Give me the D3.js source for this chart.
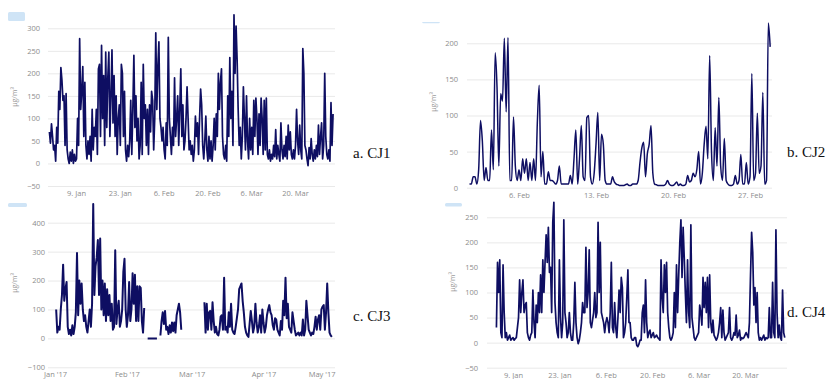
<!DOCTYPE html>
<html>
<head>
<meta charset="utf-8">
<script src="https://cdn.jsdelivr.net/npm/d3@7"></script>
<style>
  body { margin: 0; background: #fff; }
  svg { display: block; }
  .tick text { font-family: "Open Sans", sans-serif; font-size: 7.5px; fill: #8c8c8c; }
  .tick line { stroke: #e9e9e9; }
  .y-title { font-family: "Open Sans", sans-serif; font-size: 7px; fill: #9a9a9a; }
  .panel-name { font-family: "Liberation Serif", "Times New Roman", serif; font-size: 15px; fill: #111; }
</style>
</head>
<body>
<svg id="chart" width="830" height="379"></svg>
<script>
// PM readings per station

// a. CJ1 - every 8 hours from 31 Dec 12:00
const cj1Start = new Date(2016, 11, 31, 12);
const cj1StepHours = 8;
const cj1Values = [
  70,45,88, 60,30,40, 5,80,45, 160,120,213, 185,140,150, 40,155,30, 10,0,25, 5,30,0, 20,5,10,
  100,40,277, 120,160,215, 60,180,40, 10,50,20, 60,5,120, 30,80,60, 120,20,210, 220,60,262,
  100,195,40, 247,80,190, 247,60,150, 252,90,195, 60,150,20, 100,130,40, 220,200,60, 160,30,5,
  40,15,50, 140,20,120, 240,80,150, 50,100,10, 40,180,20, 220,100,130, 40,120,20, 130,70,160,
  140,30,100, 290,120,215, 270,100,80, 50,80,30, 10,90,40, 280,100,60, 20,80,40, 190,60,100,
  150,40,120, 210,60,130, 30,50,100, 170,100,30, 50,20,40, 5,30,105, 60,90,20, 100,165,130,
  40,10,50, 105,30,5, 60,10,50, 5,40,100, 30,110,60, 200,120,180, 210,60,20, 10,40,5,
  150,60,235, 100,160,40, 330,200,305, 230,120,40, 80,10,60, 170,100,30, 150,50,10, 100,30,80,
  20,140,60, 145,100,20, 110,40,145, 100,20,140, 30,145,20, 10,30,5, 20,10,40, 15,75,10,
  40,20,5, 90,30,10, 40,15,60, 10,85,30, 70,20,10, 30,10,40, 120,50,20, 85,30,10,
  255,200,40, 30,10,-5, 35,10,55, 20,5,30, 10,40,15, 85,20,60, 90,10,40, 200,60,20,
  10,30,5, 135,40,110
];

// b. CJ2 - every 4 hours from 1 Feb 12:00
const cj2Start = new Date(2017, 1, 1, 12);
const cj2StepHours = 4;
const cj2Values = [
  5,5,15,15,5,25,93,65,10,28, 10,10,80,25,187,140,30,130,120,207,
  105,208,10,10,98,30,10,25,10,40, 20,40,10,35,10,40,10,90,142,15,
  50,5,5,22,10,10,8,5,10,30, 5,5,5,5,5,17,5,40,80,5,
  40,86,15,10,97,100,15,5,20,60, 104,10,74,60,10,5,5,5,15,8,
  5,4,3,3,3,4,5,3,3,5, 5,5,10,35,55,63,15,47,60,86,
  20,5,4,3,3,3,3,5,10,5, 3,3,5,8,3,5,3,3,5,17,
  8,10,20,15,25,50,5,20,60,85, 40,183,50,10,83,30,125,30,10,68,
  10,5,3,3,5,17,5,10,46,5, 5,35,5,15,158,10,20,103,20,30,
  132,5,10,228,195
];

// c. CJ3 - every 12 hours from 1 Jan 12:00, null where the station had no data
const cj3Start = new Date(2017, 0, 1, 12);
const cj3StepHours = 12;
const cj3Values = [
  100,20,40,30,100,150,255,130,170,195, 40,15,30,10,45,15,40,90,295,80,
  200,120,190,100,60,80,40,20,60,100, 40,120,465,150,250,280,340,150,345,100,
  200,80,190,60,170,80,150,60,120,30, 40,305,50,100,130,40,60,100,230,275,
  100,40,80,195,60,100,225,120,220,60, 180,60,180,175,60,20,105,
  null,null,
  0,0,0,0,0,0,0,0,0,
  null,null,
  10,60,90,50,95,30,40,15,45,20, 55,25,55,20,80,100,120,90,30,
  null,null,null,null,null,null,null,null,null,null, null,null,null,null,null,null,null,null,null,
  125,20,120,30,90,95,30,125,60,20, 40,15,10,30,75,80,30,210,30,40,
  20,90,40,120,30,20,15,40,70,100, 170,180,190,130,90,40,20,10,5,50,
  95,60,20,40,120,55,20,40,80,20, 100,55,20,40,80,100,115,90,80,45,
  30,70,65,30,20,10,60,30,130,80, 210,70,120,40,30,20,90,60,30,10,
  15,20,10,20,10,65,10,30,130,80, 30,20,10,20,15,40,75,30,65,80,
  30,100,110,115,30,90,190,90,20,10, 5
];

// d. CJ4 - every 8 hours from 4 Jan 00:00
const cj4Start = new Date(2017, 0, 4, 0);
const cj4StepHours = 8;
const cj4Values = [
  30,160,100,165,20,10,155,60,10,20, 5,10,15,5,8,10,5,8,10,30,
  50,125,60,100,125,60,75,80,20,10, 5,15,20,105,40,10,75,40,100,60,
  135,60,165,100,160,215,160,230,140,150, 60,240,280,80,40,20,10,165,50,10,
  40,245,60,40,10,20,60,20,5,5, 40,120,40,10,-2,5,20,40,80,60,
  60,190,70,100,185,40,30,45,60,100, 50,60,240,100,200,60,50,40,20,40,
  50,40,20,60,160,30,20,80,30,10, 50,105,60,130,110,10,20,40,90,145,
  40,40,10,5,5,10,10,-5,-8,-3, 5,5,60,75,20,125,40,10,20,25,
  10,15,20,10,12,15,10,8,5,165, 90,60,155,100,160,60,30,10,5,10,
  20,100,30,155,60,135,200,245,130,230, 170,100,40,165,60,30,235,50,30,10,
  5,10,15,20,75,60,35,130,70,120, 60,130,30,135,40,20,45,15,10,5,
  10,20,40,70,10,65,20,5,10,15, 20,70,10,5,10,20,15,55,10,15,
  25,5,10,8,10,15,20,15,10,40, 135,220,180,75,110,40,100,20,5,10,
  5,10,15,5,10,8,10,70,10,10, 120,20,10,225,60,10,35,10,5,105,
  20,10
];

// axis ticks
const weekTicks = [new Date(2017,0,9), new Date(2017,0,23), new Date(2017,1,6),
                   new Date(2017,1,20), new Date(2017,2,6), new Date(2017,2,20)];
const febTicks = [new Date(2017,1,6), new Date(2017,1,13), new Date(2017,1,20), new Date(2017,1,27)];
const monthTicks = [new Date(2017,0,1), new Date(2017,1,1), new Date(2017,2,1), new Date(2017,3,1), new Date(2017,4,1)];
const yTicksA = [-50, 0, 50, 100, 150, 200, 250, 300];
const yTicksB = [0, 50, 100, 150, 200];
const yTicksC = [-100, 0, 100, 200, 300, 400];
const yTicksD = [-50, 0, 50, 100, 150, 200, 250];

const lineColor = "#0e0e62";
const svg = d3.select("#chart");

const panels = [
  { name: "a. CJ1", values: cj1Values, start: cj1Start, step: cj1StepHours, width: 1.7,
    xDom: [weekTicks[0], weekTicks[5]], xPx: [76, 295], xTicks: weekTicks, fmt: d3.timeFormat("%-d. %b"),
    yTicks: yTicksA, yPx: [186, 28.3], left: 48, right: 335, labelRight: 40, top: 8, labelY: 191,
    titleX: 17, titleY: 97, nameX: 353, nameY: 158, mark: [8, 12, 17, 9] },
  { name: "b. CJ2", values: cj2Values, start: cj2Start, step: cj2StepHours, width: 1.5, curve: d3.curveMonotoneX,
    xDom: [febTicks[0], febTicks[3]], xPx: [519, 750], xTicks: febTicks, fmt: d3.timeFormat("%-d. %b"),
    yTicks: yTicksB, yPx: [187.7, 43.3], left: 467, right: 772, labelRight: 458, top: 14, labelY: 193,
    titleX: 436, titleY: 102, nameX: 787, nameY: 157, mark: [422, 22, 18, 1.2] },
  { name: "c. CJ3", values: cj3Values, start: cj3Start, step: cj3StepHours, width: 2,
    xDom: [monthTicks[0], monthTicks[4]], xPx: [55, 333], xTicks: monthTicks, fmt: d3.timeFormat("%b '%y"),
    yTicks: yTicksC, yPx: [367.3, 222.7], left: 48, right: 335, labelRight: 45, top: 200, labelY: 372,
    titleX: 17, titleY: 283, nameX: 353, nameY: 321, mark: [8, 203, 19, 4] },
  { name: "d. CJ4", values: cj4Values, start: cj4Start, step: cj4StepHours, width: 1.7,
    xDom: [weekTicks[0], weekTicks[5]], xPx: [513, 745], xTicks: weekTicks, fmt: d3.timeFormat("%-d. %b"),
    yTicks: yTicksD, yPx: [367.7, 217.3], left: 487, right: 787, labelRight: 478, top: 200, labelY: 373,
    titleX: 455, titleY: 282, nameX: 787, nameY: 317, mark: [445, 203, 17, 3.5] }
];

panels.forEach((p, k) => {
  const g = svg.append("g");
  const x = d3.scaleTime().domain(p.xDom).range(p.xPx);
  const y = d3.scaleLinear().domain([p.yTicks[0], p.yTicks[p.yTicks.length - 1]]).range(p.yPx);
  const bottom = y(p.yTicks[0]);

  // grid + y labels
  g.append("g")
      .attr("transform", "translate(" + p.left + ",0)")
      .call(d3.axisLeft(y).tickValues(p.yTicks).tickSize(-(p.right - p.left)).tickPadding(p.left - p.labelRight))
      .call(a => a.select(".domain").remove());

  // x labels, no axis line
  const xa = g.append("g")
      .attr("transform", "translate(0," + p.labelY + ")")
      .call(d3.axisBottom(x).tickValues(p.xTicks).tickFormat(p.fmt).tickSize(0).tickPadding(0));
  xa.select(".domain").remove();
  // keep edge labels inside the plot like highcharts does
  xa.selectAll(".tick").each(function(d) {
    const t = d3.select(this).select("text");
    const w = t.node().getComputedTextLength();
    const cx = x(d);
    if (cx + w / 2 > p.right) t.attr("x", p.right - w / 2 - cx);
  });

  g.append("clipPath").attr("id", "clip" + k)
    .append("rect").attr("x", p.left).attr("y", p.top)
      .attr("width", p.right - p.left).attr("height", bottom - p.top);

  const line = d3.line()
      .defined(v => v != null)
      .x((v, i) => x(new Date(+p.start + i * p.step * 3600e3)))
      .y(v => y(v))
      .curve(p.curve || d3.curveLinear);

  g.append("path")
      .datum(p.values)
      .attr("clip-path", "url(#clip" + k + ")")
      .attr("fill", "none")
      .attr("stroke", lineColor)
      .attr("stroke-width", p.width)
      .attr("stroke-linejoin", "round")
      .attr("d", line);

  g.append("text")
      .attr("class", "y-title")
      .attr("text-anchor", "middle")
      .attr("transform", "translate(" + p.titleX + "," + p.titleY + ") rotate(-90)")
      .text("µg/m³");

  g.append("text")
      .attr("class", "panel-name")
      .attr("x", p.nameX).attr("y", p.nameY)
      .text(p.name);

  // leftover light-blue button edge in the screenshots
  g.append("rect")
      .attr("x", p.mark[0]).attr("y", p.mark[1])
      .attr("width", p.mark[2]).attr("height", p.mark[3])
      .attr("rx", 1.5)
      .attr("fill", "#cfe4f6");
});
</script>
</body>
</html>
